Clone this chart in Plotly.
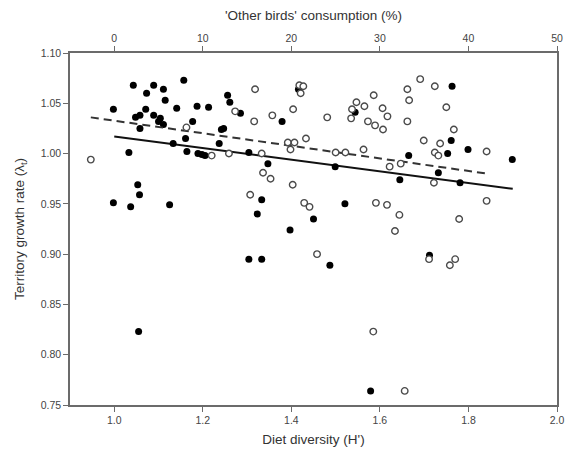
import plotly.graph_objects as go

# Filled circles: diet diversity (H') vs territory growth rate
filled_h = [1.043, 1.089, 1.157, 1.073, 1.111, 1.115, 0.998, 1.071, 1.141, 1.187,
            1.213, 1.256, 1.261, 1.285, 1.379, 1.416, 1.048, 1.058, 1.089, 1.104,
            1.100, 1.111, 1.058, 1.177, 1.242, 1.247, 1.133, 1.161, 1.237, 1.033,
            1.164, 1.189, 1.198, 1.205, 1.304, 1.347, 1.053, 1.057, 0.998, 1.037,
            1.125, 1.333, 1.323, 1.450, 1.397, 1.304, 1.333, 1.055,
            1.544, 1.763, 1.761, 1.799, 1.899, 1.753, 1.665, 1.499, 1.732, 1.645,
            1.781, 1.521, 1.487, 1.712, 1.579]
filled_l = [1.068, 1.068, 1.073, 1.060, 1.064, 1.053, 1.044, 1.044, 1.045, 1.047,
            1.046, 1.058, 1.051, 1.040, 1.032, 1.064, 1.036, 1.038, 1.038, 1.035,
            1.032, 1.029, 1.025, 1.032, 1.024, 1.025, 1.010, 1.015, 1.010, 1.001,
            1.002, 1.000, 0.999, 0.998, 1.001, 0.990, 0.969, 0.959, 0.951, 0.947,
            0.949, 0.954, 0.940, 0.935, 0.924, 0.895, 0.895, 0.823,
            1.041, 1.067, 1.013, 1.004, 0.994, 1.000, 0.998, 0.987, 0.981, 0.974,
            0.971, 0.950, 0.889, 0.899, 0.764]

# Open circles: 'Other birds' consumption (%) vs territory growth rate
open_pct = [-2.65, 15.9, 20.9, 21.35, 21.05, 13.65, 15.8, 17.85, 20.2, 8.15,
            21.65, 19.6, 20.35, 19.9, 11.0, 12.95, 16.65, 16.8, 17.65, 20.15,
            15.35, 21.45, 22.05, 22.9, 24.05, 27.35, 26.85, 26.75, 28.25, 29.3,
            30.3, 29.45, 28.65, 30.35, 30.85, 34.55, 33.1, 36.2, 33.3, 37.5,
            33.1, 38.35, 34.95, 36.8, 42.05, 36.2, 36.6, 25.0, 26.1, 28.15,
            31.1, 32.35, 36.1, 29.55, 30.8, 42.05, 32.2, 38.95, 31.7, 35.55,
            38.5, 37.9, 29.25, 32.8]
open_l = [0.994, 1.064, 1.068, 1.067, 1.060, 1.042, 1.032, 1.038, 1.044, 1.026,
          1.015, 1.011, 1.011, 1.004, 0.998, 1.000, 1.000, 0.981, 0.975, 0.969,
          0.959, 0.951, 0.947, 0.900, 1.036, 1.051, 1.044, 1.035, 1.047, 1.058,
          1.045, 1.028, 1.032, 1.024, 1.037, 1.074, 1.064, 1.067, 1.053, 1.046,
          1.032, 1.024, 1.013, 1.010, 1.002, 1.001, 0.998, 1.001, 1.001, 1.004,
          0.987, 0.990, 0.971, 0.951, 0.949, 0.953, 0.939, 0.935, 0.923, 0.895,
          0.895, 0.889, 0.823, 0.764]

# Regression lines (end points)
fit_filled_h = [1.0, 1.9]
fit_filled_l = [1.017, 0.965]
fit_open_pct = [-2.65, 42.15]
fit_open_l = [1.036, 0.980]

y_ticks = [0.75, 0.80, 0.85, 0.90, 0.95, 1.00, 1.05, 1.10]
x_ticks = [1.0, 1.2, 1.4, 1.6, 1.8, 2.0]
top_ticks = [0, 10, 20, 30, 40, 50]

FONT = "Liberation Sans, Arial, sans-serif"
AX = "#6b6b6b"
TXT = "#333333"

fig = go.Figure()
fig.add_trace(go.Scatter(x=fit_open_pct, y=fit_open_l, xaxis="x2", mode="lines",
                         line=dict(color="#333333", width=2, dash="8px,5px"),
                         showlegend=False, hoverinfo="skip"))
fig.add_trace(go.Scatter(x=fit_filled_h, y=fit_filled_l, mode="lines",
                         line=dict(color="#111111", width=2),
                         showlegend=False, hoverinfo="skip"))
fig.add_trace(go.Scatter(x=open_pct, y=open_l, xaxis="x2", mode="markers",
                         marker=dict(size=6.5, color="white",
                                     line=dict(color="#4a4a4a", width=1.4)),
                         showlegend=False))
fig.add_trace(go.Scatter(x=filled_h, y=filled_l, mode="markers",
                         marker=dict(size=7, color="#000000",
                                     line=dict(color="#000000", width=0)),
                         showlegend=False))

fig.update_layout(
    width=572, height=453,
    margin=dict(l=70, r=8, t=53, b=48),
    paper_bgcolor="white", plot_bgcolor="white",
    font=dict(family=FONT, color=TXT, size=10),
    xaxis=dict(range=[0.9, 2.0], tickvals=x_ticks, tickformat=".1f",
               showgrid=False, zeroline=False, showline=True, linecolor=AX,
               linewidth=1.5, mirror=True, ticks="outside", ticklen=5,
               tickcolor=AX, tickfont=dict(size=10.5, color="#444"),
               title=dict(text="Diet diversity (H')", font=dict(size=13.5, color=TXT),
                          standoff=9)),
    xaxis2=dict(range=[-5, 50], tickvals=top_ticks, overlaying="x", side="top",
                anchor="y", showgrid=False, zeroline=False, showline=True,
                linecolor=AX, linewidth=1.5, ticks="outside", ticklen=5,
                tickcolor=AX, tickfont=dict(size=10.5, color="#444"),
                title=dict(text="'Other birds' consumption (%)",
                           font=dict(size=13.5, color=TXT), standoff=8)),
    yaxis=dict(range=[0.75, 1.10], tickvals=y_ticks, tickformat=".2f",
               showgrid=False, zeroline=False, showline=True, linecolor=AX,
               linewidth=1.5, mirror=True, ticks="outside", ticklen=5,
               tickcolor=AX, tickfont=dict(size=10.5, color="#444"),
               title=dict(text="Territory growth rate (λ<sub>t</sub>)",
                          font=dict(size=13.5, color=TXT), standoff=13)),
)

fig.write_html("out.html")
